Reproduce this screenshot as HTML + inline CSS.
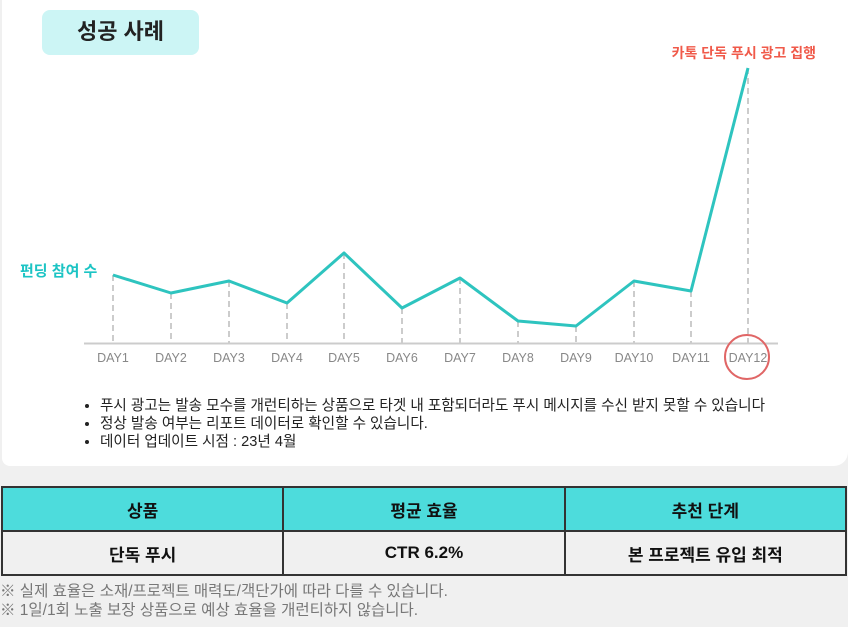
<!DOCTYPE html>
<html><head><meta charset="utf-8"><style>
body{margin:0;width:848px;height:627px;background:#f0f0f0;font-family:"Liberation Sans","Noto Sans CJK KR",sans-serif;position:relative;overflow:hidden}
.card{position:absolute;left:2px;top:0;width:846px;height:466px;background:#fff;border-bottom-right-radius:14px;border-bottom-left-radius:8px}
.title{position:absolute;left:42px;top:10px;width:157px;height:45px;background:#ccf5f5;border-radius:8px;font-weight:bold;font-size:22px;color:#222;text-align:center;line-height:43px}
ul{position:absolute;left:76px;top:397px;margin:0;padding:0 0 0 24px;font-size:14.6px;color:#222;line-height:18px}
table{position:absolute;left:1px;top:486px;width:846px;border-collapse:collapse;font-weight:bold;font-size:17px;color:#111}
td{border:2px solid #333;text-align:center;height:40px;width:33%}
tr.h td{background:#4ddcdc}
.note{position:absolute;left:0;top:582px;font-size:15.5px;color:#777;line-height:19px}
</style></head><body>
<div class="card"></div>
<div class="title">성공 사례</div>
<svg style="position:absolute;left:0;top:0" width="848" height="400">
<g stroke="#bbb" stroke-width="1.5" stroke-dasharray="6,4">
<line x1="113" y1="275" x2="113" y2="343"/><line x1="171" y1="293" x2="171" y2="343"/><line x1="229" y1="281" x2="229" y2="343"/><line x1="287" y1="303" x2="287" y2="343"/><line x1="344" y1="253" x2="344" y2="343"/><line x1="402" y1="308" x2="402" y2="343"/><line x1="460" y1="278" x2="460" y2="343"/><line x1="518" y1="321" x2="518" y2="343"/><line x1="576" y1="326" x2="576" y2="343"/><line x1="634" y1="281" x2="634" y2="343"/><line x1="691" y1="291" x2="691" y2="343"/><line x1="748" y1="68" x2="748" y2="343"/>
</g>
<line x1="84" y1="343.5" x2="778" y2="343.5" stroke="#ccc" stroke-width="2"/>
<polyline fill="none" stroke="#2ec4bf" stroke-width="3" stroke-linejoin="round" points="113,275 171,293 229,281 287,303 344,253 402,308 460,278 518,321 576,326 634,281 691,291 748,68"/>
<g font-size="12.5" fill="#888" text-anchor="middle" font-family="Liberation Sans,sans-serif">
<text x="113" y="362">DAY1</text><text x="171" y="362">DAY2</text><text x="229" y="362">DAY3</text><text x="287" y="362">DAY4</text><text x="344" y="362">DAY5</text><text x="402" y="362">DAY6</text><text x="460" y="362">DAY7</text><text x="518" y="362">DAY8</text><text x="576" y="362">DAY9</text><text x="634" y="362">DAY10</text><text x="691" y="362">DAY11</text><text x="748" y="362">DAY12</text>
</g>
<circle cx="747" cy="357" r="22" fill="none" stroke="#e06666" stroke-width="2"/>
<text x="20" y="276" font-size="15" font-weight="bold" fill="#1cc4c4">펀딩 참여 수</text>
<text x="816" y="58" font-size="14" font-weight="bold" fill="#f05a4a" text-anchor="end">카톡 단독 푸시 광고 집행</text>
</svg>
<ul><li>푸시 광고는 발송 모수를 개런티하는 상품으로 타겟 내 포함되더라도 푸시 메시지를 수신 받지 못할 수 있습니다</li><li>정상 발송 여부는 리포트 데이터로 확인할 수 있습니다.</li><li>데이터 업데이트 시점 : 23년 4월</li></ul>
<table><tr class="h"><td>상품</td><td>평균 효율</td><td>추천 단계</td></tr><tr><td>단독 푸시</td><td>CTR 6.2%</td><td>본 프로젝트 유입 최적</td></tr></table>
<div class="note">※ 실제 효율은 소재/프로젝트 매력도/객단가에 따라 다를 수 있습니다.<br>※ 1일/1회 노출 보장 상품으로 예상 효율을 개런티하지 않습니다.</div>
</body></html>
